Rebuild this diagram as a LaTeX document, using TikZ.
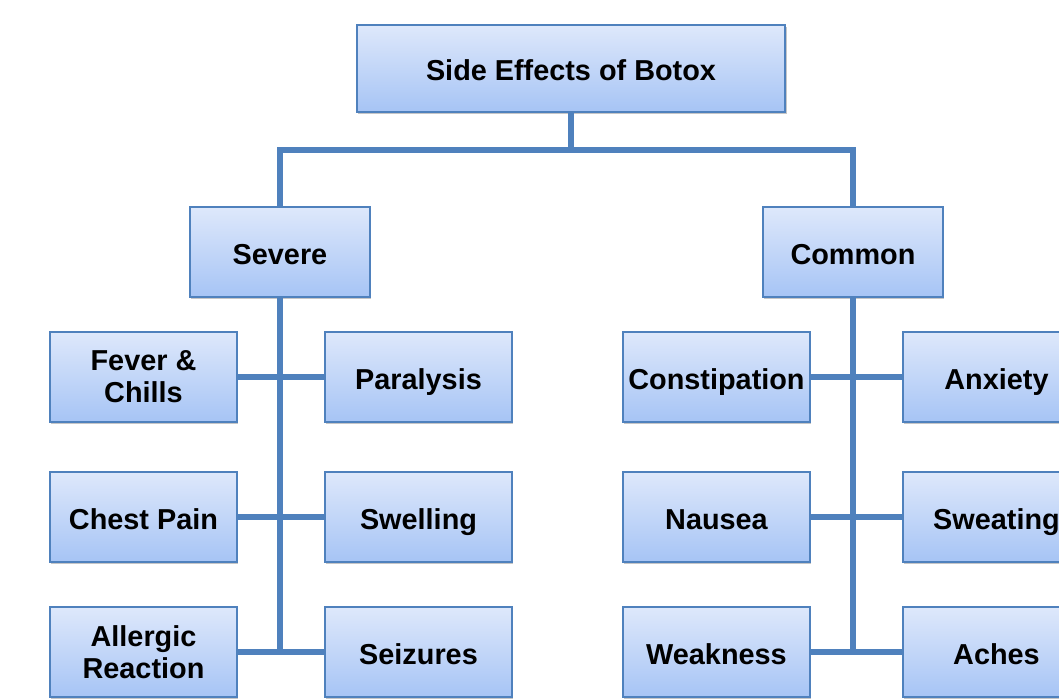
\documentclass[tikz,border=0pt]{standalone}
\usepackage{fontspec}
\setmainfont{Liberation Sans}
\usetikzlibrary{shadows}

\definecolor{linkblue}{RGB}{79,129,189}
\definecolor{boxtop}{RGB}{222,232,251}
\definecolor{boxbot}{RGB}{166,196,245}

\tikzset{
  effect/.style={draw=linkblue, line width=0.6pt, top color=boxtop, bottom color=boxbot,
    minimum width=1.87cm, minimum height=0.9cm, align=center, inner sep=1pt,
    font=\fontsize{8.2}{9.1}\selectfont\bfseries,
    drop shadow={shadow xshift=0.4pt, shadow yshift=-0.6pt, opacity=0.45}},
  oneline/.style={effect, text height=0.72em, text depth=0.02em},
  conn/.style={draw=linkblue, line width=1.45pt}
}

\begin{document}
\begin{tikzpicture}[x=0.01cm, y=-0.01cm]
    \useasboundingbox (0,0) rectangle (1059,700);

    % Junction points of the lines
    \coordinate (bar) at (571,150);
    \coordinate (sevend) at (280,652);
    \coordinate (comend) at (853,652);

    % Top box
    \node[oneline, minimum width=4.28cm, minimum height=0.87cm] (botox) at (571,68.5) {Side Effects of Botox};

    % Two groups
    \node[oneline, minimum width=1.8cm] (severe) at (280,252) {Severe};
    \node[oneline, minimum width=1.8cm] (common) at (853,252) {Common};

    % Severe side
    \node[effect] (fever) at (143.5,377) {Fever \&\\Chills};
    \node[oneline] (paralysis) at (418.5,377) {Paralysis};
    \node[oneline] (chest) at (143.5,517) {Chest Pain};
    \node[oneline] (swelling) at (418.5,517) {Swelling};
    \node[effect] (allergic) at (143.5,652) {Allergic\\Reaction};
    \node[oneline] (seizures) at (418.5,652) {Seizures};

    % Common side
    \node[oneline] (constipation) at (716.5,377) {Constipation};
    \node[oneline] (anxiety) at (996.5,377) {Anxiety};
    \node[oneline] (nausea) at (716.5,517) {Nausea};
    \node[oneline] (sweating) at (996.5,517) {Sweating};
    \node[oneline] (weakness) at (716.5,652) {Weakness};
    \node[oneline] (aches) at (996.5,652) {Aches};

    % Connectors
    \draw[conn] (botox.south) -- (bar);
    \draw[conn] (severe.north) |- (bar) -| (common.north);
    \draw[conn] (severe.south) -- (sevend);
    \draw[conn] (common.south) -- (comend);
    \draw[conn] (fever) -- (paralysis);
    \draw[conn] (chest) -- (swelling);
    \draw[conn] (allergic) -- (seizures);
    \draw[conn] (constipation) -- (anxiety);
    \draw[conn] (nausea) -- (sweating);
    \draw[conn] (weakness) -- (aches);
\end{tikzpicture}
\end{document}
